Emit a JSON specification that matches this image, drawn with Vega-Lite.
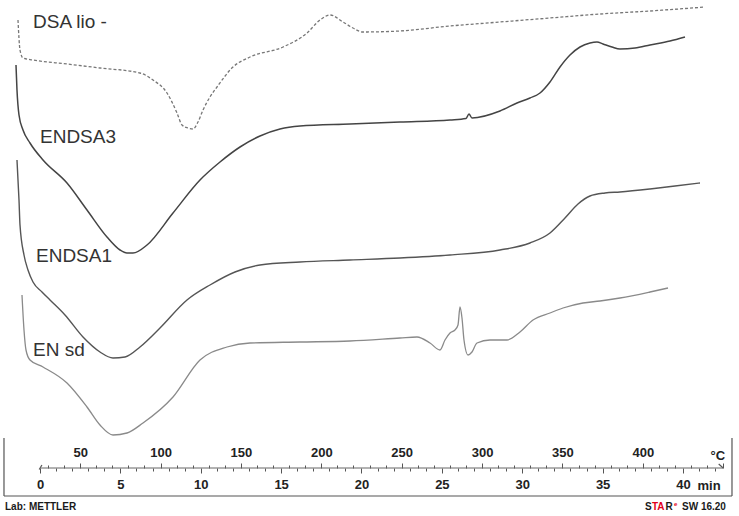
{
  "$schema": "https://vega.github.io/schema/vega-lite/v6.json",
  "width": 739,
  "height": 516,
  "padding": 0,
  "autosize": {"type": "fit", "contains": "padding"},
  "background": "white",
  "config": {"view": {"stroke": null}, "font": "Liberation Sans", "axis": {"grid": false}},
  "datasets": {
    "curves": [
      {"s": "DSA lio", "t": -1.369, "hf": 49.6}, {"s": "DSA lio", "t": -1.244, "hf": 46.6}, {"s": "DSA lio", "t": -1.058, "hf": 45.8},
      {"s": "DSA lio", "t": -0.435, "hf": 45.6}, {"s": "DSA lio", "t": 1.680, "hf": 45.2}, {"s": "DSA lio", "t": 3.733, "hf": 44.8},
      {"s": "DSA lio", "t": 6.221, "hf": 44.3}, {"s": "DSA lio", "t": 7.030, "hf": 43.6}, {"s": "DSA lio", "t": 7.900, "hf": 42.3},
      {"s": "DSA lio", "t": 8.523, "hf": 40.3}, {"s": "DSA lio", "t": 8.834, "hf": 39.1}, {"s": "DSA lio", "t": 9.207, "hf": 38.8},
      {"s": "DSA lio", "t": 9.518, "hf": 38.7}, {"s": "DSA lio", "t": 9.829, "hf": 39.4}, {"s": "DSA lio", "t": 10.140, "hf": 40.6},
      {"s": "DSA lio", "t": 10.575, "hf": 41.9}, {"s": "DSA lio", "t": 11.011, "hf": 42.9}, {"s": "DSA lio", "t": 12.006, "hf": 44.9},
      {"s": "DSA lio", "t": 13.064, "hf": 45.9}, {"s": "DSA lio", "t": 15.117, "hf": 46.9}, {"s": "DSA lio", "t": 16.610, "hf": 48.3},
      {"s": "DSA lio", "t": 17.418, "hf": 49.6}, {"s": "DSA lio", "t": 18.040, "hf": 50.1}, {"s": "DSA lio", "t": 18.849, "hf": 49.4},
      {"s": "DSA lio", "t": 19.471, "hf": 48.8}, {"s": "DSA lio", "t": 20.093, "hf": 48.4}, {"s": "DSA lio", "t": 22.395, "hf": 48.5},
      {"s": "DSA lio", "t": 25.505, "hf": 49.0}, {"s": "DSA lio", "t": 28.616, "hf": 49.4}, {"s": "DSA lio", "t": 31.726, "hf": 49.8},
      {"s": "DSA lio", "t": 34.837, "hf": 50.2}, {"s": "DSA lio", "t": 37.947, "hf": 50.5}, {"s": "DSA lio", "t": 41.369, "hf": 50.9},

      {"s": "ENDSA3", "t": -1.493, "hf": 45.1}, {"s": "ENDSA3", "t": -1.431, "hf": 42.6}, {"s": "ENDSA3", "t": -1.306, "hf": 40.1},
      {"s": "ENDSA3", "t": -1.058, "hf": 38.6}, {"s": "ENDSA3", "t": -0.622, "hf": 37.3}, {"s": "ENDSA3", "t": 0.187, "hf": 35.6},
      {"s": "ENDSA3", "t": 1.680, "hf": 33.3}, {"s": "ENDSA3", "t": 2.924, "hf": 30.6}, {"s": "ENDSA3", "t": 4.168, "hf": 27.9},
      {"s": "ENDSA3", "t": 4.977, "hf": 26.6}, {"s": "ENDSA3", "t": 5.412, "hf": 26.3}, {"s": "ENDSA3", "t": 5.785, "hf": 26.3},
      {"s": "ENDSA3", "t": 6.656, "hf": 27.1}, {"s": "ENDSA3", "t": 8.274, "hf": 30.3}, {"s": "ENDSA3", "t": 9.953, "hf": 33.6},
      {"s": "ENDSA3", "t": 11.198, "hf": 35.4}, {"s": "ENDSA3", "t": 12.442, "hf": 36.9}, {"s": "ENDSA3", "t": 13.686, "hf": 38.0},
      {"s": "ENDSA3", "t": 14.930, "hf": 38.7}, {"s": "ENDSA3", "t": 16.174, "hf": 39.0}, {"s": "ENDSA3", "t": 19.285, "hf": 39.2},
      {"s": "ENDSA3", "t": 22.395, "hf": 39.4}, {"s": "ENDSA3", "t": 25.505, "hf": 39.6}, {"s": "ENDSA3", "t": 26.501, "hf": 39.75},
      {"s": "ENDSA3", "t": 26.687, "hf": 40.2}, {"s": "ENDSA3", "t": 26.874, "hf": 39.8}, {"s": "ENDSA3", "t": 28.616, "hf": 40.5},
      {"s": "ENDSA3", "t": 29.673, "hf": 41.3}, {"s": "ENDSA3", "t": 30.482, "hf": 41.8}, {"s": "ENDSA3", "t": 31.104, "hf": 42.3},
      {"s": "ENDSA3", "t": 31.726, "hf": 43.4}, {"s": "ENDSA3", "t": 32.348, "hf": 44.9}, {"s": "ENDSA3", "t": 32.970, "hf": 46.1},
      {"s": "ENDSA3", "t": 33.593, "hf": 46.9}, {"s": "ENDSA3", "t": 34.215, "hf": 47.3}, {"s": "ENDSA3", "t": 34.650, "hf": 47.4},
      {"s": "ENDSA3", "t": 35.023, "hf": 47.2}, {"s": "ENDSA3", "t": 35.583, "hf": 46.9}, {"s": "ENDSA3", "t": 36.081, "hf": 46.7},
      {"s": "ENDSA3", "t": 37.014, "hf": 46.8}, {"s": "ENDSA3", "t": 37.947, "hf": 47.1}, {"s": "ENDSA3", "t": 39.191, "hf": 47.5},
      {"s": "ENDSA3", "t": 40.124, "hf": 47.9},

      {"s": "ENDSA1", "t": -1.431, "hf": 35.6}, {"s": "ENDSA1", "t": -1.306, "hf": 31.6}, {"s": "ENDSA1", "t": -1.244, "hf": 29.1},
      {"s": "ENDSA1", "t": -0.995, "hf": 26.1}, {"s": "ENDSA1", "t": -0.747, "hf": 24.6}, {"s": "ENDSA1", "t": -0.435, "hf": 23.4},
      {"s": "ENDSA1", "t": 0.124, "hf": 22.4}, {"s": "ENDSA1", "t": 0.622, "hf": 21.6}, {"s": "ENDSA1", "t": 1.555, "hf": 20.1},
      {"s": "ENDSA1", "t": 2.675, "hf": 17.9}, {"s": "ENDSA1", "t": 3.733, "hf": 16.4}, {"s": "ENDSA1", "t": 4.541, "hf": 15.8},
      {"s": "ENDSA1", "t": 5.288, "hf": 15.9}, {"s": "ENDSA1", "t": 6.221, "hf": 16.9}, {"s": "ENDSA1", "t": 7.465, "hf": 18.8},
      {"s": "ENDSA1", "t": 9.145, "hf": 21.6}, {"s": "ENDSA1", "t": 10.575, "hf": 23.1}, {"s": "ENDSA1", "t": 12.131, "hf": 24.4},
      {"s": "ENDSA1", "t": 13.686, "hf": 25.1}, {"s": "ENDSA1", "t": 16.174, "hf": 25.4}, {"s": "ENDSA1", "t": 19.285, "hf": 25.6},
      {"s": "ENDSA1", "t": 22.395, "hf": 25.8}, {"s": "ENDSA1", "t": 25.505, "hf": 26.1}, {"s": "ENDSA1", "t": 28.616, "hf": 26.6},
      {"s": "ENDSA1", "t": 30.482, "hf": 27.3}, {"s": "ENDSA1", "t": 31.726, "hf": 28.3}, {"s": "ENDSA1", "t": 32.659, "hf": 29.8},
      {"s": "ENDSA1", "t": 33.468, "hf": 31.2}, {"s": "ENDSA1", "t": 34.215, "hf": 32.0}, {"s": "ENDSA1", "t": 35.148, "hf": 32.3},
      {"s": "ENDSA1", "t": 36.081, "hf": 32.4}, {"s": "ENDSA1", "t": 37.947, "hf": 32.7}, {"s": "ENDSA1", "t": 39.502, "hf": 33.0},
      {"s": "ENDSA1", "t": 41.057, "hf": 33.3},

      {"s": "EN sd", "t": -1.120, "hf": 22.1}, {"s": "EN sd", "t": -0.995, "hf": 18.6}, {"s": "EN sd", "t": -0.871, "hf": 16.6},
      {"s": "EN sd", "t": -0.622, "hf": 15.6}, {"s": "EN sd", "t": 0.187, "hf": 14.9}, {"s": "EN sd", "t": 1.680, "hf": 13.3},
      {"s": "EN sd", "t": 2.924, "hf": 10.9}, {"s": "EN sd", "t": 3.733, "hf": 9.1}, {"s": "EN sd", "t": 4.541, "hf": 8.1},
      {"s": "EN sd", "t": 5.412, "hf": 8.3}, {"s": "EN sd", "t": 6.407, "hf": 9.3}, {"s": "EN sd", "t": 8.274, "hf": 11.9},
      {"s": "EN sd", "t": 9.953, "hf": 15.6}, {"s": "EN sd", "t": 11.633, "hf": 16.9}, {"s": "EN sd", "t": 13.064, "hf": 17.3},
      {"s": "EN sd", "t": 16.174, "hf": 17.4}, {"s": "EN sd", "t": 19.285, "hf": 17.5}, {"s": "EN sd", "t": 22.395, "hf": 17.8},
      {"s": "EN sd", "t": 23.453, "hf": 17.9}, {"s": "EN sd", "t": 24.261, "hf": 17.3}, {"s": "EN sd", "t": 24.883, "hf": 16.6},
      {"s": "EN sd", "t": 25.194, "hf": 17.6}, {"s": "EN sd", "t": 25.505, "hf": 18.3}, {"s": "EN sd", "t": 25.816, "hf": 18.6},
      {"s": "EN sd", "t": 26.003, "hf": 19.1}, {"s": "EN sd", "t": 26.128, "hf": 20.9}, {"s": "EN sd", "t": 26.252, "hf": 19.8},
      {"s": "EN sd", "t": 26.376, "hf": 17.6}, {"s": "EN sd", "t": 26.625, "hf": 16.1}, {"s": "EN sd", "t": 26.874, "hf": 16.4},
      {"s": "EN sd", "t": 27.185, "hf": 17.3}, {"s": "EN sd", "t": 27.994, "hf": 17.6}, {"s": "EN sd", "t": 29.051, "hf": 17.6},
      {"s": "EN sd", "t": 29.860, "hf": 18.4}, {"s": "EN sd", "t": 30.669, "hf": 19.6}, {"s": "EN sd", "t": 31.726, "hf": 20.3},
      {"s": "EN sd", "t": 32.535, "hf": 20.8}, {"s": "EN sd", "t": 33.779, "hf": 21.3}, {"s": "EN sd", "t": 34.837, "hf": 21.5},
      {"s": "EN sd", "t": 36.081, "hf": 21.8}, {"s": "EN sd", "t": 37.947, "hf": 22.4}, {"s": "EN sd", "t": 39.067, "hf": 22.8}
    ],
    "labels": [
      {"txt": "DSA lio -", "t": -0.435, "hf": 49.45},
      {"txt": "ENDSA3", "t": 0.0, "hf": 37.9},
      {"txt": "ENDSA1", "t": -0.249, "hf": 26.05},
      {"txt": "EN sd", "t": -0.435, "hf": 16.65}
    ],
    "frame": [
      {"t": -2.24, "t2": -2.24, "hf": 7.8, "h2": 2.0},
      {"t": -2.24, "t2": 43.048, "hf": 2.0, "h2": 2.0},
      {"t": 43.048, "t2": 43.048, "hf": 7.8, "h2": 2.0},
      {"t": -0.05, "t2": 0.12, "hf": 4.65, "h2": 5.1},
      {"t": 42.22, "t2": 42.5, "hf": 5.2, "h2": 4.8}
    ],
    "footer": [
      {"txt": "Lab: METTLER", "t": -2.177, "hf": 0.6, "part": "plain"},
      {"txt": "S", "t": 37.636, "hf": 0.6, "part": "plain"},
      {"txt": "TA", "t": 38.071, "hf": 0.6, "part": "accent"},
      {"txt": "R", "t": 38.911, "hf": 0.6, "part": "plain"},
      {"txt": "SW 16.20", "t": 39.938, "hf": 0.6, "part": "plain"}
    ],
    "sup": [
      {"txt": "e", "t": 39.44, "hf": 1.0}
    ],
    "axisline": [
      {"T1": 25, "T2": 450, "hf": 4.8}
    ]
  },
  "resolve": {"scale": {"x": "independent"}},
  "layer": [
    {
      "encoding": {
        "x": {"field": "t", "type": "quantitative", "scale": {"domain": [-2.488, 43.484], "nice": false, "zero": false},
          "axis": {
            "orient": "bottom", "offset": -48, "domain": false, "grid": false,
            "values": [0,1,2,3,4,5,6,7,8,9,10,11,12,13,14,15,16,17,18,19,20,21,22,23,24,25,26,27,28,29,30,31,32,33,34,35,36,37,38,39,40,41,42],
            "tickSize": {"condition": {"test": "datum.value % 5 === 0", "value": 5}, "value": 3},
            "tickColor": "#555555", "tickWidth": 1,
            "labelExpr": "datum.value % 5 === 0 ? datum.label : ''",
            "labelFont": "Liberation Sans", "labelFontWeight": "bold", "labelFontSize": 13, "labelColor": "#222222",
            "labelPadding": 5, "labelFlush": false, "labelOverlap": false,
            "title": "min", "titleX": 697, "titleY": 21, "titleAlign": "left", "titleBaseline": "alphabetic", "titleAngle": 0,
            "titleFont": "Liberation Sans", "titleFontWeight": "bold", "titleFontSize": 13, "titleColor": "#222222"
          }},
        "y": {"field": "hf", "type": "quantitative", "scale": {"domain": [0, 51.6], "nice": false, "zero": false}, "axis": null}
      },
      "layer": [
        {
          "data": {"name": "curves"},
          "transform": [{"filter": "datum.s === 'DSA lio'"}],
          "mark": {"type": "line", "interpolate": "monotone", "color": "#777777", "strokeWidth": 1.3, "strokeDash": [3, 2]}
        },
        {
          "data": {"name": "curves"},
          "transform": [{"filter": "datum.s === 'ENDSA3'"}],
          "mark": {"type": "line", "interpolate": "monotone", "color": "#444444", "strokeWidth": 1.5}
        },
        {
          "data": {"name": "curves"},
          "transform": [{"filter": "datum.s === 'ENDSA1'"}],
          "mark": {"type": "line", "interpolate": "monotone", "color": "#555555", "strokeWidth": 1.4}
        },
        {
          "data": {"name": "curves"},
          "transform": [{"filter": "datum.s === 'EN sd'"}],
          "mark": {"type": "line", "interpolate": "monotone", "color": "#8a8a8a", "strokeWidth": 1.3}
        },
        {
          "data": {"name": "labels"},
          "mark": {"type": "text", "align": "left", "baseline": "middle", "font": "Liberation Sans", "fontSize": 19, "color": "#333333"},
          "encoding": {"text": {"field": "txt"}}
        },
        {
          "data": {"name": "frame"},
          "mark": {"type": "rule", "color": "#555555", "strokeWidth": 1.2},
          "encoding": {"x2": {"field": "t2"}, "y2": {"field": "h2"}}
        },
        {
          "data": {"name": "footer"},
          "mark": {"type": "text", "align": "left", "baseline": "alphabetic", "font": "Liberation Sans", "fontWeight": "bold", "fontSize": 10},
          "encoding": {
            "text": {"field": "txt"},
            "color": {"field": "part", "type": "nominal", "scale": {"domain": ["plain", "accent"], "range": ["#1a1a1a", "#e2001a"]}, "legend": null}
          }
        },
        {
          "data": {"name": "sup"},
          "mark": {"type": "text", "align": "left", "baseline": "alphabetic", "font": "Liberation Sans", "fontWeight": "bold", "fontSize": 6, "color": "#e2001a"},
          "encoding": {"text": {"field": "txt"}}
        }
      ]
    },
    {
      "data": {"name": "axisline"},
      "mark": {"type": "rule", "color": "#666666", "strokeWidth": 1},
      "encoding": {
        "x": {"field": "T1", "type": "quantitative", "scale": {"domain": [0.12, 459.84], "nice": false, "zero": false},
          "axis": {
            "orient": "top", "offset": -468, "domain": false, "grid": false,
            "values": [30,40,50,60,70,80,90,100,110,120,130,140,150,160,170,180,190,200,210,220,230,240,250,260,270,280,290,300,310,320,330,340,350,360,370,380,390,400,410,420,430,440,450],
            "tickSize": {"condition": {"test": "datum.value % 50 === 0", "value": 5}, "value": 3},
            "tickColor": "#555555", "tickWidth": 1,
            "labelExpr": "datum.value % 50 === 0 && datum.value <= 400 ? datum.label : ''",
            "labelFont": "Liberation Sans", "labelFontWeight": "bold", "labelFontSize": 13, "labelColor": "#222222",
            "labelPadding": 4, "labelFlush": false, "labelOverlap": false,
            "title": "°C", "titleX": 710, "titleY": -9, "titleAlign": "left", "titleBaseline": "alphabetic", "titleAngle": 0,
            "titleFont": "Liberation Sans", "titleFontWeight": "bold", "titleFontSize": 13, "titleColor": "#222222"
          }},
        "x2": {"field": "T2"},
        "y": {"field": "hf", "type": "quantitative", "scale": {"domain": [0, 51.6], "nice": false, "zero": false}, "axis": null}
      }
    }
  ]
}
